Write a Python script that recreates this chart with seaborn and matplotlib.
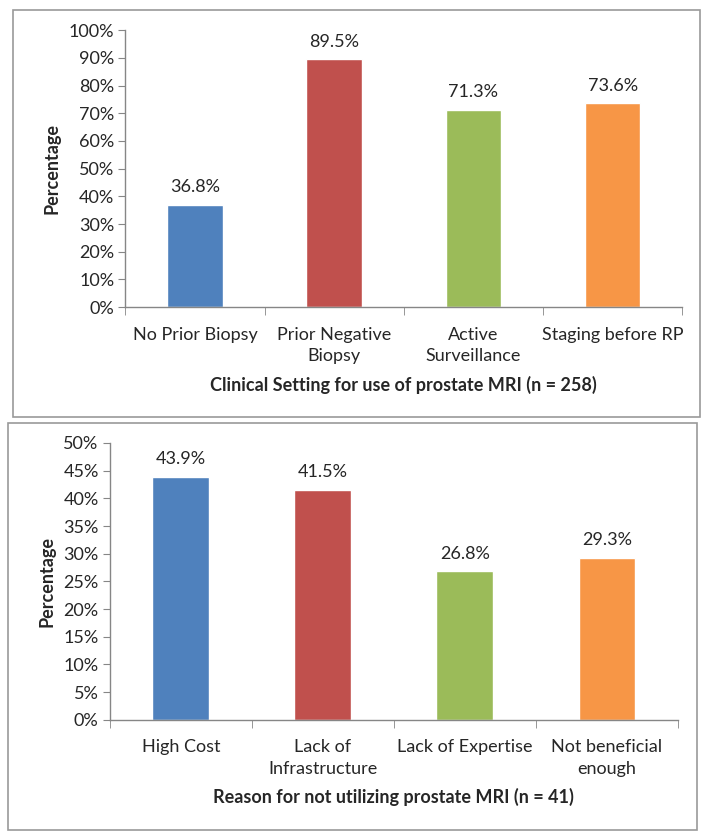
"""
Prostate MRI survey bar charts
"""

import matplotlib.pyplot as plt
import matplotlib.patches as mpatches
from matplotlib.ticker import PercentFormatter, FixedLocator
import seaborn as sns
import pandas as pd

sns.set_style("white")
plt.rcParams['font.family'] = ['Lato', 'DejaVu Sans']

# data
settings = ['No Prior Biopsy', 'Prior Negative\nBiopsy', 'Active\nSurveillance', 'Staging before RP']
settings_pct = [36.8, 89.5, 71.3, 73.6]

reasons = ['High Cost', 'Lack of\nInfrastructure', 'Lack of Expertise', 'Not beneficial\nenough']
reasons_pct = [43.9, 41.5, 26.8, 29.3]

colors = ['#4F81BD', '#C0504D', '#9BBB59', '#F79646']
axis_color = '#868686'
fs = 13


def draw_panel(ax, cats, vals, ymax, ystep, xlabel):
    df = pd.DataFrame({'cat': cats, 'pct': vals})
    sns.barplot(data=df, x='cat', y='pct', hue='cat', palette=colors,
                width=0.4, legend=False, ax=ax, saturation=1)

    # 数值标签
    for bar, v in zip(ax.patches, vals):
        ax.text(bar.get_x() + bar.get_width() / 2, v + ymax * 0.035,
                f'{v:.1f}%', ha='center', va='bottom', fontsize=fs)

    ax.set_ylim(0, ymax)
    ax.set_xlim(-0.5, len(cats) - 0.5)
    ax.set_yticks(range(0, ymax + 1, ystep))
    ax.yaxis.set_major_formatter(PercentFormatter(decimals=0))
    ax.tick_params(axis='y', labelsize=fs, length=5, color=axis_color,
                   direction='out', left=True, pad=3)

    # x 轴刻度放在分类之间
    ax.tick_params(axis='x', which='major', length=0, labelsize=fs, pad=14)
    for t in ax.get_xticklabels():
        t.set_linespacing(1.45)
    ax.xaxis.set_minor_locator(FixedLocator([i - 0.5 for i in range(len(cats) + 1)]))
    ax.tick_params(axis='x', which='minor', length=6, color=axis_color,
                   direction='out', bottom=True)

    for s in ['top', 'right']:
        ax.spines[s].set_visible(False)
    for s in ['left', 'bottom']:
        ax.spines[s].set_color(axis_color)
        ax.spines[s].set_linewidth(1)

    ax.set_ylabel('Percentage', fontsize=fs, fontweight='bold', labelpad=6)
    ax.set_xlabel(xlabel, fontsize=fs, fontweight='bold', labelpad=8)


fig = plt.figure(figsize=(7.04, 8.39), dpi=100)

# 外框
fig.patches.append(mpatches.Rectangle((0.0185, 0.503), 0.976, 0.485, transform=fig.transFigure,
                                      fill=False, edgecolor='#9a9a9a', linewidth=1.2))
fig.patches.append(mpatches.Rectangle((0.011, 0.011), 0.979, 0.485, transform=fig.transFigure,
                                      fill=False, edgecolor='#9a9a9a', linewidth=1.2))

ax1 = fig.add_axes([0.178, 0.634, 0.791, 0.330])
draw_panel(ax1, settings, settings_pct, 100, 10,
           'Clinical Setting for use of prostate MRI (n = 258)')

ax2 = fig.add_axes([0.156, 0.142, 0.807, 0.330])
draw_panel(ax2, reasons, reasons_pct, 50, 5,
           'Reason for not utilizing prostate MRI (n = 41)')

plt.savefig('out.png', dpi=100)
